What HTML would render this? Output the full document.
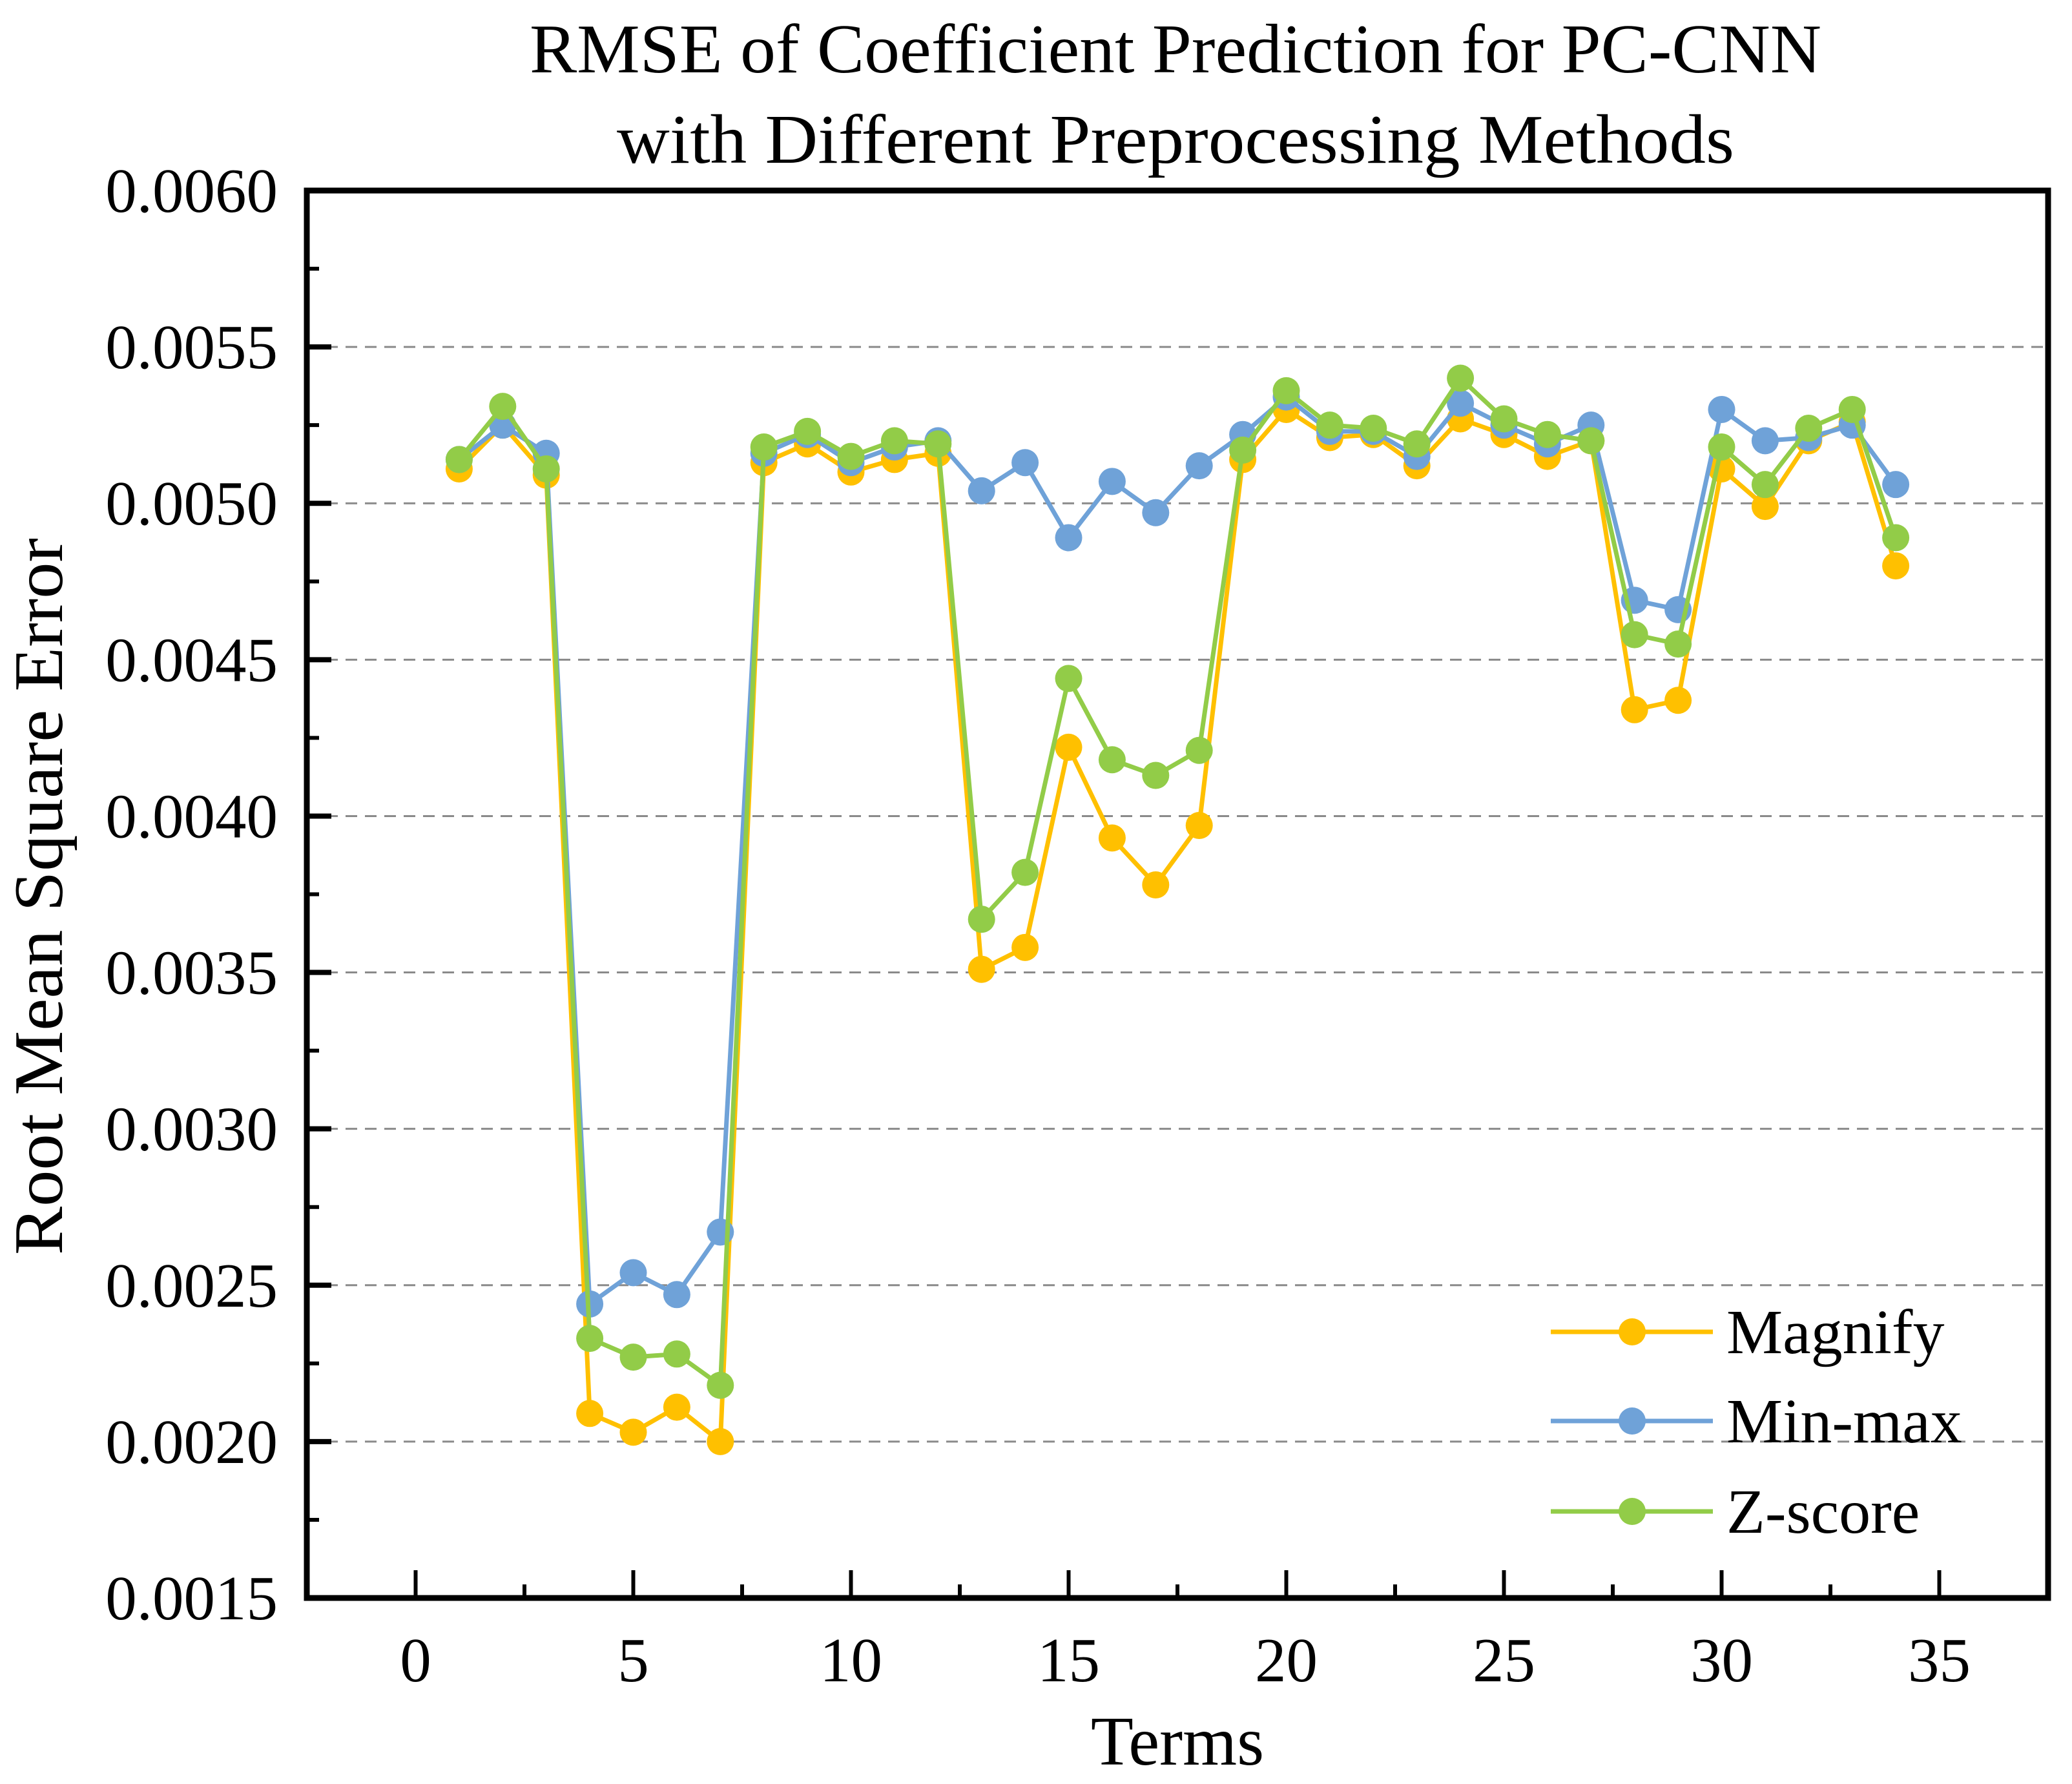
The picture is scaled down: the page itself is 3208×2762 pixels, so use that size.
<!DOCTYPE html>
<html><head><meta charset="utf-8"><style>
html,body{margin:0;padding:0;background:#fff;}
svg text{font-family:"Liberation Serif",serif;fill:#000;}
</style></head><body>
<svg id="chart" width="3208" height="2757" viewBox="0 0 3208 2757" xmlns="http://www.w3.org/2000/svg">
<text x="1820" y="112" font-size="108" text-anchor="middle" textLength="2000" lengthAdjust="spacingAndGlyphs">RMSE of Coefficient Prediction for PC-CNN</text>
<text x="1820" y="252" font-size="108" text-anchor="middle" textLength="1730" lengthAdjust="spacingAndGlyphs">with Different Preprocessing Methods</text>
<text x="0" y="0" font-size="108" text-anchor="middle" transform="translate(96,1388) rotate(-90)" textLength="1110" lengthAdjust="spacingAndGlyphs">Root Mean Square Error</text>
<text x="1823" y="2732" font-size="108" text-anchor="middle">Terms</text>
<g id="grid"></g><g id="ticks"></g><g id="series"></g>
<rect x="475" y="295" width="2696" height="2179" fill="none" stroke="#000" stroke-width="9"/>
<g id="legend"></g>
</svg>
<script>
const terms=[1,2,3,4,5,6,7,8,9,10,11,12,13,14,15,16,17,18,19,20,21,22,23,24,25,26,27,28,29,30,31,32,33,34];
const magnify=[0.00511,0.00525,0.00509,0.00209,0.00203,0.00211,0.00200,0.00513,0.00519,0.00510,0.00514,0.00516,0.00351,0.00358,0.00422,0.00393,0.00378,0.00397,0.00514,0.00530,0.00521,0.00522,0.00512,0.00527,0.00522,0.00515,0.00520,0.00434,0.00437,0.00511,0.00499,0.00520,0.00526,0.00480];
const minmax=[0.00514,0.00525,0.00516,0.00244,0.00254,0.00247,0.00267,0.00516,0.00522,0.00513,0.00518,0.00520,0.00504,0.00513,0.00489,0.00507,0.00497,0.00512,0.00522,0.00534,0.00523,0.00523,0.00515,0.00532,0.00525,0.00519,0.00525,0.00469,0.00466,0.00530,0.00520,0.00521,0.00525,0.00506];
const zscore=[0.00514,0.00531,0.00511,0.00233,0.00227,0.00228,0.00218,0.00518,0.00523,0.00515,0.00520,0.00519,0.00367,0.00382,0.00444,0.00418,0.00413,0.00421,0.00517,0.00536,0.00525,0.00524,0.00519,0.00540,0.00527,0.00522,0.00520,0.00458,0.00455,0.00518,0.00506,0.00524,0.00530,0.00489];
const seriesNames=["Magnify","Min-max","Z-score"];
const yTickLabels=["0.0015","0.0020","0.0025","0.0030","0.0035","0.0040","0.0045","0.0050","0.0055","0.0060"];
const xTickLabels=["0","5","10","15","20","25","30","35"];

const NS="http://www.w3.org/2000/svg";
const L=475,R=3171,T=295,B=2474;
const X0=-2.5,X1=37.5,Y0=0.0015,Y1=0.0060;
function sx(v){return L+(v-X0)/(X1-X0)*(R-L);}
function sy(v){return B-(v-Y0)/(Y1-Y0)*(B-T);}
function mk(tag,attrs,parent){const e=document.createElementNS(NS,tag);for(const k in attrs)e.setAttribute(k,attrs[k]);parent.appendChild(e);return e;}
const grid=document.getElementById('grid'),ticks=document.getElementById('ticks'),ser=document.getElementById('series'),leg=document.getElementById('legend');

yTickLabels.forEach((t,i)=>{
  const v=parseFloat(t),y=sy(v);
  if(i>0&&i<yTickLabels.length-1){
    const g=mk('line',{x1:L,x2:R,y1:y,y2:y,stroke:'#8a8a8a','stroke-width':3,'stroke-dasharray':'18 12'},grid);
    
    
  }
  const tk=mk('line',{x1:L,x2:L+38,y1:y,y2:y,stroke:'#000','stroke-width':8},ticks);
  
  
  if(i<yTickLabels.length-1){
    const ym=sy(v+0.00025);
    const mt=mk('line',{x1:L,x2:L+19,y1:ym,y2:ym,stroke:'#000','stroke-width':6},ticks);
    
    
  }
  const tx=mk('text',{x:430,y:y+33,'font-size':97,'text-anchor':'end'},ticks);
  tx.textContent=t;
  
  
});
xTickLabels.forEach((t,i)=>{
  const v=parseFloat(t),x=sx(v);
  const tk=mk('line',{x1:x,x2:x,y1:B,y2:B-43,stroke:'#000','stroke-width':6},ticks);
  
  
  const xm=sx(v+2.5);
  if(xm<R-5){
    const mt=mk('line',{x1:xm,x2:xm,y1:B,y2:B-21,stroke:'#000','stroke-width':6},ticks);
    
    
  }
  const tx=mk('text',{x:x,y:2603,'font-size':97,'text-anchor':'middle'},ticks);
  tx.textContent=t;
  
  
});
const allSeries=[magnify,minmax,zscore];
const colors=["#FFC000","#6FA2D8","#92CC48"];
allSeries.forEach((vals,si)=>{
  const g=mk('g',{},ser);
  
  
  const pts=terms.map((t,i)=>sx(t)+','+sy(vals[i])).join(' ');
  const pl=mk('polyline',{points:pts,fill:'none',stroke:colors[si],'stroke-width':7,'stroke-linejoin':'round'},g);
  
  
  terms.forEach((t,i)=>{
    const c=mk('circle',{cx:sx(t),cy:sy(vals[i]),r:21,fill:colors[si]},g);
    
    
  });
});
const legY=[2062,2200,2340];
seriesNames.forEach((n,i)=>{
  const g=mk('g',{},leg);
  
  
  mk('line',{x1:2401,x2:2652,y1:legY[i],y2:legY[i],stroke:colors[i],'stroke-width':7},g);
  mk('circle',{cx:2527,cy:legY[i],r:21,fill:colors[i]},g);
  const tx=mk('text',{x:2673,y:legY[i]+33,'font-size':98},g);
  tx.textContent=n;
});
</script>
</body></html>
